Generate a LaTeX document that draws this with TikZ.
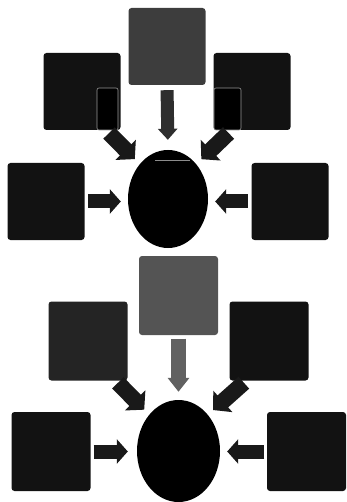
\documentclass[tikz,border=0pt]{standalone}
\usetikzlibrary{shapes.geometric,arrows.meta}

\begin{document}
\begin{tikzpicture}[
      x=1pt, y=-1pt,
      tile/.style={rectangle, rounded corners=3pt, minimum size=77pt, inner sep=0pt, fill=black!93},
      softtile/.style={tile, fill=black!86},
      greytile/.style={tile, fill=black!76},
      paletile/.style={tile, fill=black!67},
      hub/.style={ellipse, inner sep=0pt, fill=black},
      feed/.style={line width=14pt, black!90, -{Triangle[width=24pt,length=11pt]}},
      slant/.style={feed, line width=16pt, -{Triangle[width=28pt,length=13pt]}},
      drop/.style={feed, line width=13pt, -{Triangle[width=19pt,length=11pt]}}
    ]
    \useasboundingbox (0,0) rectangle (347,502);
    % upper group
    \foreach \tname/\tx/\ty/\tkind in {top1/167/46.5/greytile,tl1/82/91.5/tile,tr1/252/91.5/tile,l1/46/201.5/tile,r1/290/201.5/tile}{%
      \node[\tkind] (\tname) at (\tx,\ty) {};
    }
    \node[hub, minimum width=80pt, minimum height=98pt] (hub1) at (168,199) {};
    \fill[black, draw=black!40, line width=0.6pt, rounded corners=2pt] (97,88) rectangle (118,130);
    \fill[black, draw=black!40, line width=0.6pt, rounded corners=2pt] (214,88) rectangle (241,130);
    \draw[black!45, line width=0.8pt] (155,160) -- (190,160);
    \draw[drop, black!82, shorten <=5pt, shorten >=10pt] (top1.south) -- (hub1.north);
    \draw[slant, shorten <=4pt, shorten >=7pt] (tl1.-58) -- (hub1.129);
    \draw[slant, shorten <=4pt, shorten >=7pt] (tr1.-118) -- (hub1.51);
    \draw[feed, shorten <=3.5pt, shorten >=7pt] (l1.east) -- (l1.east -| hub1.west);
    \draw[feed, shorten <=3.5pt, shorten >=7pt] (r1.west) -- (r1.west -| hub1.east);
    % lower group
    \foreach \tname/\tx/\ty/\tkind in {top2/178.5/295.5/paletile,tl2/88/341/softtile,tr2/269/341/tile,l2/51/451.5/tile,r2/306.5/451.5/tile}{%
      \node[\tkind, minimum size=79pt] (\tname) at (\tx,\ty) {};
    }
    \node[hub, minimum width=83pt, minimum height=102pt] (hub2) at (178.5,451) {};
    \draw[drop, black!62, line width=15pt, -{Triangle[width=21pt,length=14pt]}, shorten <=3.5pt, shorten >=8pt] (top2.south) -- (hub2.north);
    \draw[slant, shorten <=3pt, shorten >=7pt] (tl2.-55) -- (hub2.129.5);
    \draw[slant, shorten <=3pt, shorten >=7pt] (tr2.-120) -- (hub2.51);
    \draw[feed, shorten <=3pt, shorten >=9pt] (l2.east) -- (l2.east -| hub2.west);
    \draw[feed, shorten <=2.5pt, shorten >=7pt] (r2.west) -- (r2.west -| hub2.east);
  \end{tikzpicture}
\end{document}
